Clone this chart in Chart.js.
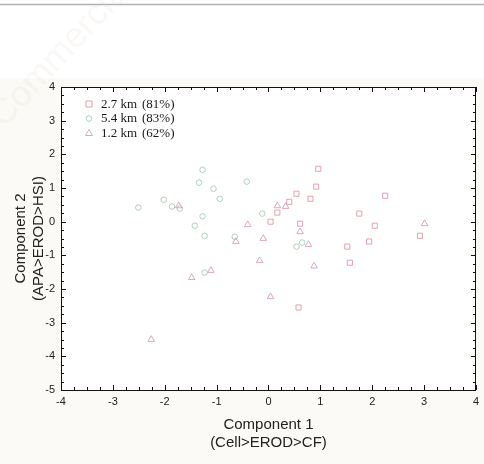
<!DOCTYPE html>
<html>
<head>
<meta charset="utf-8">
<script src="https://cdn.jsdelivr.net/npm/chart.js@4/dist/chart.umd.min.js"></script>
<style>
  html, body { margin: 0; padding: 0; background: #ffffff; }
  #wrap { position: relative; width: 484px; height: 464px; }
</style>
</head>
<body>
<div id="wrap"><canvas id="c" width="484" height="464"></canvas></div>
<script>
// ---- data ----
const seriesLabels = ['2.7 km', '5.4 km', '1.2 km'];
const seriesPct = ['(81%)', '(83%)', '(62%)'];

const sqX = [0.96, 0.92, 0.54, 0.81, 0.40, 0.17, 0.04, 0.61, 1.52, 2.25, 1.75, 2.05, 2.92, 1.94, 1.57, 0.58];
const sqY = [1.57, 1.04, 0.83, 0.68, 0.59, 0.27, 0.00, -0.06, -0.74, 0.77, 0.24, -0.12, -0.42, -0.59, -1.22, -2.55];

const ciX = [-2.51, -2.02, -1.86, -1.71, -1.27, -1.34, -1.06, -0.94, -1.27, -1.42, -1.23, -0.65, -0.42, -0.12, 0.54, 0.65, -1.23];
const ciY = [0.42, 0.65, 0.45, 0.39, 1.54, 1.16, 0.98, 0.68, 0.16, -0.12, -0.42, -0.45, 1.19, 0.24, -0.74, -0.62, -1.51];

const trX = [-1.73, 0.17, 0.33, -0.40, -0.10, 0.61, 0.77, -0.63, -0.17, -1.48, -1.11, -2.26, 0.88, 0.04, 3.01];
const trY = [0.47, 0.47, 0.45, -0.09, -0.50, -0.30, -0.68, -0.59, -1.16, -1.66, -1.45, -3.50, -1.32, -2.23, -0.06];

const xTickValues = [-4, -3, -2, -1, 0, 1, 2, 3, 4];
const yTickValues = [-5, -4, -3, -2, -1, 0, 1, 2, 3, 4];
const xTitle = ['Component 1', '(Cell>EROD>CF)'];
const yTitle = ['Component 2', '(APA>EROD>HSI)'];
const watermark = 'Commercial';

function pts(xs, ys) { return xs.map((x, i) => ({ x: x, y: ys[i] })); }

const colSq = 'rgba(222,140,150,0.8)';
const colCi = 'rgba(160,196,172,0.8)';
const colTr = 'rgba(210,150,170,0.8)';

const decor = {
  id: 'decor',
  beforeDraw(chart) {
    const ctx = chart.ctx;
    const a = chart.chartArea;
    ctx.save();
    ctx.fillStyle = '#ffffff';
    ctx.fillRect(0, 0, chart.width, chart.height);
    ctx.fillStyle = '#fbfaf6';
    ctx.fillRect(0, 78, chart.width, chart.height - 78);
    ctx.fillStyle = '#ffffff';
    ctx.fillRect(a.left, a.top, a.right - a.left, a.bottom - a.top);
    ctx.strokeStyle = '#b0b0b0';
    ctx.lineWidth = 1.5;
    ctx.beginPath();
    ctx.moveTo(0, 4.5);
    ctx.lineTo(chart.width, 4.5);
    ctx.stroke();
    ctx.translate(62, 52);
    ctx.rotate(-0.82);
    ctx.fillStyle = 'rgba(225,215,205,0.18)';
    ctx.font = '36px "Liberation Sans", Arial, sans-serif';
    ctx.textAlign = 'center';
    ctx.textBaseline = 'middle';
    ctx.fillText(watermark, 0, 0);
    ctx.restore();
  },
  afterDraw(chart) {
    const ctx = chart.ctx;
    const a = chart.chartArea;
    const xs = chart.scales.x, ys = chart.scales.y;
    ctx.save();
    ctx.strokeStyle = '#111';
    ctx.lineWidth = 1;
    ctx.strokeRect(Math.round(a.left) + 0.5, Math.round(a.top) + 0.5,
                   Math.round(a.right - a.left) - 1, Math.round(a.bottom - a.top));
    ctx.beginPath();
    for (let v = xs.min; v <= xs.max + 1e-9; v += 0.25) {
      const px = Math.round(xs.getPixelForValue(v)) + 0.5;
      const major = Math.abs(v - Math.round(v)) < 1e-6;
      const L = major ? 5 : 3;
      ctx.moveTo(px, a.bottom); ctx.lineTo(px, a.bottom - L);
      ctx.moveTo(px, a.top); ctx.lineTo(px, a.top + L);
    }
    for (let v = ys.min; v <= ys.max + 1e-9; v += 0.25) {
      const py = Math.round(ys.getPixelForValue(v)) + 0.5;
      const major = Math.abs(v - Math.round(v)) < 1e-6;
      const L = major ? 5 : 3;
      ctx.moveTo(a.left, py); ctx.lineTo(a.left + L, py);
      ctx.moveTo(a.right, py); ctx.lineTo(a.right - L, py);
    }
    ctx.stroke();

    const rows = [104, 118.5, 133];
    chart.data.datasets.forEach((ds, i) => {
      const y = rows[i];
      const x = 89;
      ctx.strokeStyle = ds.borderColor;
      ctx.lineWidth = 1;
      ctx.beginPath();
      if (ds.pointStyle === 'rect') {
        ctx.rect(x - 3, y - 3, 6, 6);
      } else if (ds.pointStyle === 'circle') {
        ctx.arc(x, y, 2.8, 0, Math.PI * 2);
      } else {
        ctx.moveTo(x, y - 3.5); ctx.lineTo(x + 3.5, y + 2.5); ctx.lineTo(x - 3.5, y + 2.5); ctx.closePath();
      }
      ctx.stroke();
      ctx.fillStyle = '#1a1a1a';
      ctx.font = '13px "Liberation Serif", "Times New Roman", serif';
      ctx.textAlign = 'left';
      ctx.textBaseline = 'middle';
      ctx.fillText(ds.label, 101, y + 0.5);
      ctx.fillText(seriesPct[i], 142, y + 0.5);
    });
    ctx.restore();
  }
};

const tickFont = { family: '"Liberation Sans", Arial, sans-serif', size: 11 };
const titleFont = { family: '"Liberation Sans", Arial, sans-serif', size: 15 };

new Chart(document.getElementById('c'), {
  type: 'scatter',
  data: {
    datasets: [
      { label: seriesLabels[0], data: pts(sqX, sqY), pointStyle: 'rect', pointRadius: 3.6,
        borderColor: colSq, backgroundColor: 'rgba(0,0,0,0)', borderWidth: 1 },
      { label: seriesLabels[1], data: pts(ciX, ciY), pointStyle: 'circle', pointRadius: 2.8,
        borderColor: colCi, backgroundColor: 'rgba(0,0,0,0)', borderWidth: 1 },
      { label: seriesLabels[2], data: pts(trX, trY), pointStyle: 'triangle', pointRadius: 3.8,
        borderColor: colTr, backgroundColor: 'rgba(0,0,0,0)', borderWidth: 1 }
    ]
  },
  options: {
    responsive: false,
    animation: false,
    devicePixelRatio: 1,
    layout: { padding: { top: 87, right: 6, left: 0, bottom: 0 } },
    plugins: { legend: { display: false }, tooltip: { enabled: false } },
    scales: {
      x: {
        type: 'linear', min: -4, max: 4,
        afterBuildTicks(s) { s.ticks = xTickValues.map(v => ({ value: v })); },
        afterFit(s) { s.height = 74; },
        grid: { display: false, drawTicks: false },
        border: { display: false },
        ticks: { font: tickFont, color: '#222', padding: 5, maxRotation: 0,
                 callback: v => String(v) },
        title: { display: true, text: xTitle, font: titleFont, color: '#222',
                 padding: { top: 14, bottom: 12 } }
      },
      y: {
        type: 'linear', min: -5, max: 4,
        afterBuildTicks(s) { s.ticks = yTickValues.map(v => ({ value: v })); },
        afterFit(s) { s.width = 61; },
        grid: { display: false, drawTicks: false },
        border: { display: false },
        ticks: { font: tickFont, color: '#222', padding: 6,
                 callback: v => String(v) },
        title: { display: true, text: yTitle, font: titleFont, color: '#222',
                 padding: { top: 12, bottom: 0 } }
      }
    }
  },
  plugins: [decor]
});
</script>
</body>
</html>
